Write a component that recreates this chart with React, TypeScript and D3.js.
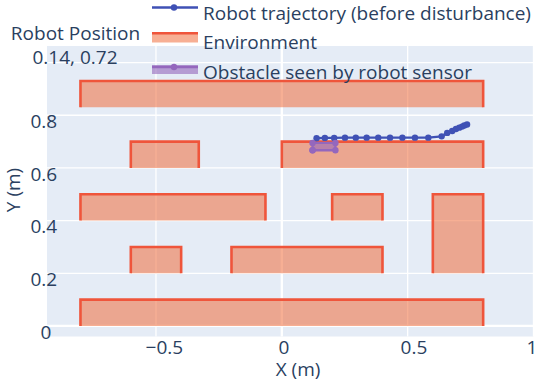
import React from 'react';
import * as d3 from 'd3';

// environment blocks (x0, x1, y0, y1)
const envX0 = [-0.8, -0.6, -0.2, 0.6, -0.8, 0.2, -0.6, 0, -0.8];
const envX1 = [0.8, -0.4, 0.4, 0.8, -0.065, 0.4, -0.33, 0.8, 0.8];
const envY0 = [0, 0.2, 0.2, 0.2, 0.4, 0.4, 0.6, 0.6, 0.83];
const envY1 = [0.1, 0.3, 0.3, 0.5, 0.5, 0.5, 0.7, 0.7, 0.93];

const trajX = [0.138, 0.171, 0.208, 0.251, 0.294, 0.337, 0.383, 0.43, 0.479, 0.529, 0.582, 0.635, 0.657, 0.677, 0.692, 0.705, 0.716, 0.725, 0.736];
const trajY = [0.713, 0.714, 0.714, 0.715, 0.715, 0.715, 0.715, 0.715, 0.715, 0.715, 0.715, 0.72, 0.733, 0.74, 0.748, 0.753, 0.757, 0.761, 0.765];

const obsX = [0.122, 0.122, 0.213, 0.213, 0.122];
const obsY = [0.667, 0.695, 0.695, 0.667, 0.667];

const xTicks = [-0.5, 0, 0.5, 1];
const xTickLabels = ['\u22120.5', '0', '0.5', '1'];
const yTicks = [0, 0.2, 0.4, 0.6, 0.8, 1];
const yTickLabels = ['0', '0.2', '0.4', '0.6', '0.8', ''];

const legendNames = ['Robot trajectory (before disturbance)', 'Environment', 'Obstacle seen by robot sensor'];

const W = 538;
const H = 380;
const FONT = '"Open Sans", verdana, arial, sans-serif';
const FS = 19;
const TXT = '#2a3f5f';
const BLUE = '#3f51b5';
const RED = '#ef553b';
const RED_FILL = 'rgba(240,110,60,0.55)';
const PURPLE = '#9467bd';
const PURPLE_FILL = 'rgba(148,103,189,0.6)';

export default function App() {
  const left = 47, right = 533.5, top = 46, bottom = 336.5;
  const x = d3.scaleLinear().domain([-0.933, 1.0]).range([left, right]);
  const y = d3.scaleLinear().domain([-0.04, 1.063]).range([bottom, top]);

  const line = d3.line<[number, number]>().x(d => x(d[0])).y(d => y(d[1]));

  // open outline: left, top, right edges (fill closes the shape)
  const envPaths = envX0.map((x0, i) => line([
    [x0, envY0[i]], [x0, envY1[i]], [envX1[i], envY1[i]], [envX1[i], envY0[i]],
  ]));
  const trajPts: [number, number][] = trajX.map((v, i) => [v, trajY[i]]);
  const obsPts: [number, number][] = obsX.map((v, i) => [v, obsY[i]]);

  const estW = (s: string) => s.length * 0.55 * FS;

  return (
    <div style={{ position: 'absolute', left: 0, top: 0 }}>
      <svg width={W} height={H} style={{ display: 'block', background: '#fff' }} fontFamily={FONT}>
        <rect x={left} y={top} width={right - left} height={bottom - top} fill="#e5ecf6" />
        {/* grid */}
        {xTicks.map(t => (
          <line key={'gx' + t} x1={x(t)} x2={x(t)} y1={top} y2={bottom}
            stroke="#fff" strokeWidth={t === 0 ? 2.3 : 1.3} />
        ))}
        {yTicks.map(t => (
          <line key={'gy' + t} x1={left} x2={right} y1={y(t)} y2={y(t)}
            stroke="#fff" strokeWidth={t === 0 ? 2.3 : 1.3} />
        ))}

        {/* environment */}
        {envPaths.map((d, i) => (
          <path key={'env' + i} d={d || ''} fill={RED_FILL} stroke={RED} strokeWidth={2.6} />
        ))}

        {/* trajectory */}
        <path d={line(trajPts) || ''} fill="none" stroke={BLUE} strokeWidth={2.4} />
        {trajPts.map((p, i) => (
          <circle key={'t' + i} cx={x(p[0])} cy={y(p[1])} r={3.2} fill={BLUE} />
        ))}

        {/* obstacle */}
        <path d={line(obsPts) || ''} fill={PURPLE_FILL} stroke={PURPLE} strokeWidth={2.4} />
        {obsPts.map((p, i) => (
          <circle key={'o' + i} cx={x(p[0])} cy={y(p[1])} r={3.2} fill={PURPLE} />
        ))}

        {/* x tick labels */}
        {xTicks.map((t, i) => (
          <text key={'xl' + t} x={Math.min(x(t) + 0.2 * estW(xTickLabels[i]), 532)} y={347} dy="0.35em"
            textAnchor="middle" fontSize={FS} fill={TXT}>{xTickLabels[i]}</text>
        ))}
        {/* y tick labels */}
        {yTicks.map((t, i) => (
          <text key={'yl' + t} x={47 - 0.1 * estW(yTickLabels[i])} y={y(t) + 6} dy="0.35em"
            textAnchor="middle" fontSize={FS} fill={TXT}>{yTickLabels[i]}</text>
        ))}

        {/* axis titles */}
        <text x={298} y={369} dy="0.35em" textAnchor="middle" fontSize={FS} fill={TXT}>X (m)</text>
        <text transform="translate(13,190) rotate(-90)" dy="0.35em" textAnchor="middle" fontSize={FS} fill={TXT}>Y (m)</text>

        {/* annotation */}
        <text x={75.5} y={33} dy="0.35em" textAnchor="middle" fontSize={FS} fill={TXT}>Robot Position</text>
        <text x={75} y={57} dy="0.35em" textAnchor="middle" fontSize={FS} fill={TXT}>0.14, 0.72</text>

        {/* legend */}
        <g>
          <line x1={152} x2={198} y1={7.5} y2={7.5} stroke={BLUE} strokeWidth={2.4} />
          <circle cx={174} cy={7.5} r={3.2} fill={BLUE} />
          <text x={203} y={13} dy="0.35em" fontSize={FS} fill={TXT}>{legendNames[0]}</text>

          <rect x={152} y={33} width={46} height={9.5} fill={RED_FILL} />
          <line x1={152} x2={198} y1={33.3} y2={33.3} stroke={RED} strokeWidth={2.6} />
          <text x={203} y={42} dy="0.35em" fontSize={FS} fill={TXT}>{legendNames[1]}</text>

          <rect x={152} y={65} width={46} height={9} fill={PURPLE_FILL} />
          <line x1={152} x2={198} y1={67} y2={67} stroke={PURPLE} strokeWidth={2.4} />
          <circle cx={174} cy={67} r={3.2} fill={PURPLE} />
          <text x={203} y={72} dy="0.35em" fontSize={FS} fill={TXT}>{legendNames[2]}</text>
        </g>
      </svg>
    </div>
  );
}
